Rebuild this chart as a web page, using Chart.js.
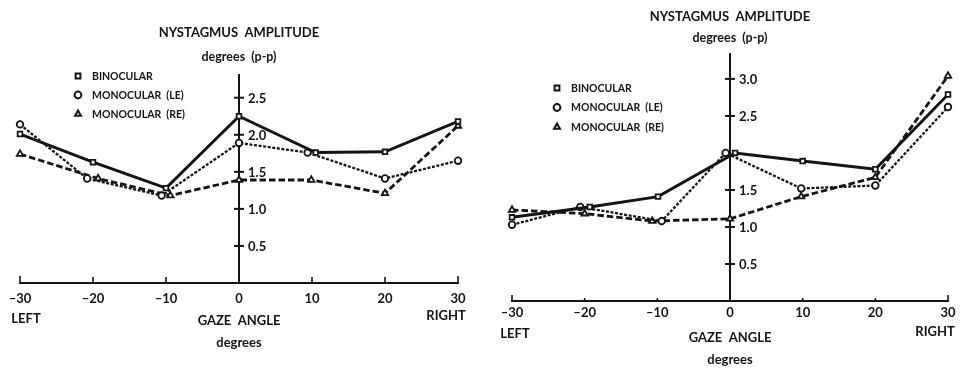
<!DOCTYPE html>
<html>
<head>
<meta charset="utf-8">
<script src="https://cdn.jsdelivr.net/npm/chart.js@4.4.1/dist/chart.umd.min.js"></script>
<style>
  html, body { margin: 0; padding: 0; background: #fff; }
  .panel { position: absolute; top: 0; }
</style>
</head>
<body>
<div class="panel" style="left:0"><canvas id="leftChart" width="480" height="368"></canvas></div>
<div class="panel" style="left:480px"><canvas id="rightChart" width="481" height="368"></canvas></div>
<script>
// gaze angle ticks and labels
const xTicks = [-30, -20, -10, 0, 10, 20, 30]
const xTickLabels = ['\u201330', '\u201320', '\u201310', '0', '10', '20', '30']
const seriesNames = ['BINOCULAR', 'MONOCULAR  (LE)', 'MONOCULAR  (RE)']

// left figure
const leftBinoX = [-30, -20, -10, 0, 10.5, 20, 30]
const leftBinoY = [2.01, 1.63, 1.28, 2.25, 1.76, 1.77, 2.18]
const leftLeX = [-30, -20.8, -10.6, 0, 9.4, 20, 30]
const leftLeY = [2.14, 1.41, 1.18, 1.89, 1.76, 1.41, 1.65]
const leftReX = [-30, -19.3, -9.4, 0, 9.9, 20, 30]
const leftReY = [1.74, 1.41, 1.18, 1.39, 1.39, 1.21, 2.12]
const leftYTicks = [0.5, 1.0, 1.5, 2.0, 2.5]
const leftYLabels = ['0.5', '1.0', '1.5', '2.0', '2.5']

// right figure
const rightBinoX = [-30, -19.3, -9.9, 0.7, 10, 20, 30]
const rightBinoY = [1.13, 1.27, 1.41, 2.0, 1.89, 1.78, 2.79]
const rightLeX = [-30, -20.6, -9.4, -0.6, 9.8, 20, 30]
const rightLeY = [1.03, 1.27, 1.08, 2.0, 1.52, 1.56, 2.62]
const rightReX = [-30, -20, -10.7, 0, 9.8, 20, 30]
const rightReY = [1.23, 1.18, 1.08, 1.11, 1.41, 1.67, 3.04]
const rightYTicks = [0.5, 1.0, 1.5, 2.5, 3.0]
const rightYLabels = ['0.5', '1.0', '1.5', '2.5', '3.0']

const INK = '#141414'
const FONT = "Lato, 'DejaVu Sans', sans-serif"

const pts = (xs, ys) => xs.map((x, i) => ({ x, y: ys[i] }))

const gazePlugin = {
  id: 'gaze',
  beforeDatasetsDraw (chart, args, o) {
    const { ctx, chartArea, scales: { x, y } } = chart
    const x0 = x.getPixelForValue(0)
    ctx.save()
    ctx.strokeStyle = INK
    ctx.fillStyle = INK
    ctx.lineWidth = 2
    ctx.beginPath()
    ctx.moveTo(x0, chartArea.bottom)
    ctx.lineTo(x0, chartArea.top)
    ctx.stroke()
    ctx.font = 'bold 13px ' + FONT
    ctx.textAlign = 'left'
    ctx.textBaseline = 'middle'
    o.yTicks.forEach((v, i) => {
      const py = y.getPixelForValue(v)
      ctx.beginPath()
      ctx.moveTo(x0 - 5, py)
      ctx.lineTo(x0 + 5, py)
      ctx.stroke()
      ctx.fillText(o.yLabels[i], x0 + 9, py + 1)
    })
    ctx.lineWidth = 1.6
    xTicks.forEach(v => {
      const px = x.getPixelForValue(v)
      const h = (v === -30 || v === 30) ? o.endTick : o.midTick
      ctx.beginPath()
      ctx.moveTo(px, chartArea.bottom)
      ctx.lineTo(px, chartArea.bottom - h)
      ctx.stroke()
    })
    ctx.restore()
  },
  afterDraw (chart, args, o) {
    const { ctx, scales: { x } } = chart
    const cx = x.getPixelForValue(0)
    ctx.save()
    ctx.fillStyle = INK
    ctx.textAlign = 'center'
    ctx.textBaseline = 'middle'
    ctx.font = 'bold 13px ' + FONT
    ctx.fillText('NYSTAGMUS  AMPLITUDE', cx, o.titleY)
    ctx.font = 'bold 12.5px ' + FONT
    ctx.fillText('degrees  (p-p)', cx, o.titleY + o.subGap)
    ctx.font = 'bold 13px ' + FONT
    ctx.fillText('GAZE  ANGLE', cx, o.gazeY)
    ctx.fillText('degrees', cx, o.gazeY + 22)
    ctx.fillText('LEFT', x.getPixelForValue(-30) + o.leftDx, o.leftY)
    ctx.fillText('RIGHT', x.getPixelForValue(30) + o.rightDx, o.rightY)

    // legend
    ctx.font = 'bold 10.5px ' + FONT
    ctx.textAlign = 'left'
    chart.data.datasets.forEach((ds, i) => {
      const ly = o.legendY + i * o.legendGap
      ctx.fillStyle = '#fff'
      ctx.strokeStyle = INK
      ctx.lineWidth = 2
      Chart.helpers.drawPoint(ctx, { pointStyle: ds.pointStyle, radius: 3.4, rotation: 0, borderWidth: 2 }, o.legendX, ly)
      ctx.fillStyle = INK
      ctx.fillText(ds.label, o.legendX + 14, ly + 0.5)
    })
    ctx.restore()
  }
}

function makePanel (id, d) {
  const base = { borderColor: INK, pointBorderColor: INK, pointBackgroundColor: '#fff', pointBorderWidth: 1.8, clip: false, tension: 0 }
  return new Chart(document.getElementById(id), {
    type: 'line',
    data: {
      datasets: [
        { ...base, label: seriesNames[0], data: pts(d.bx, d.by), borderWidth: 3, pointStyle: 'rect', pointRadius: 3.3 },
        { ...base, label: seriesNames[1], data: pts(d.lx, d.ly), borderWidth: 2.3, borderDash: [3, 1.6], pointStyle: 'circle', pointRadius: 3.3 },
        { ...base, label: seriesNames[2], data: pts(d.rx, d.ry), borderWidth: 2.8, borderDash: [6.5, 3], pointStyle: 'triangle', pointRadius: 3.7 }
      ]
    },
    options: {
      responsive: false,
      animation: false,
      devicePixelRatio: 1,
      layout: { padding: d.pad },
      plugins: { legend: { display: false }, tooltip: { enabled: false }, gaze: d.deco },
      scales: {
        x: {
          type: 'linear',
          min: -30,
          max: 30,
          afterBuildTicks: s => { s.ticks = xTicks.map(v => ({ value: v })) },
          afterFit: s => { s.height = d.xHeight },
          ticks: {
            color: INK,
            padding: d.tickPad,
            font: { family: FONT, size: 13, weight: 'bold' },
            callback: v => xTickLabels[xTicks.indexOf(v)]
          },
          grid: { display: false, drawTicks: false },
          border: { display: true, color: INK, width: 2 }
        },
        y: { type: 'linear', min: 0, max: d.yMax, display: false }
      }
    },
    plugins: [gazePlugin]
  })
}

makePanel('leftChart', {
  bx: leftBinoX, by: leftBinoY, lx: leftLeX, ly: leftLeY, rx: leftReX, ry: leftReY,
  yMax: 2.82, pad: { left: 20, right: 22, top: 74, bottom: 0 }, xHeight: 85, tickPad: 8,
  deco: {
    yTicks: leftYTicks, yLabels: leftYLabels, endTick: 7, midTick: 6,
    titleY: 33, subGap: 24, gazeY: 321, leftDx: 6, leftY: 319, rightDx: -12, rightY: 316,
    legendX: 78, legendY: 76, legendGap: 19
  }
})

makePanel('rightChart', {
  bx: rightBinoX, by: rightBinoY, lx: rightLeX, ly: rightLeY, rx: rightReX, ry: rightReY,
  yMax: 3.35, pad: { left: 32, right: 13, top: 53, bottom: 0 }, xHeight: 67, tickPad: 4,
  deco: {
    yTicks: rightYTicks, yLabels: rightYLabels, endTick: 6, midTick: 3,
    titleY: 17, subGap: 21, gazeY: 338, leftDx: 3, leftY: 334, rightDx: -13, rightY: 332,
    legendX: 77, legendY: 88, legendGap: 19.5
  }
})
</script>
</body>
</html>
